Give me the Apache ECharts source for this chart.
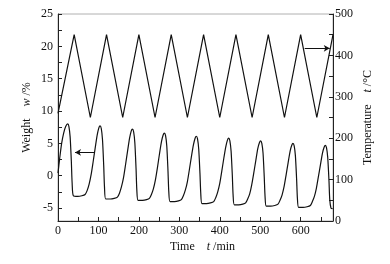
<!DOCTYPE html>
<html><head><meta charset="utf-8">
<script src="https://cdn.jsdelivr.net/npm/echarts@6/dist/echarts.min.js"></script>
<style>html,body{margin:0;padding:0;background:#fff}#c{width:390px;height:264px}</style>
</head><body><div id="c"></div>
<script>
// Weight curve (time in min, weight in %)
const weightTime = [0,4,9,14,19,24,27,30,33,35,38,49,59,
  67,72,77,82,87,92,97,101,104,107,110,113,115,118,129,139,
  147,152,157,162,167,172,177,181,184,187,190,193,195,198,209,219,
  226,231,236,241,246,251,256,260,263,266,269,272,274,277,288,298,
  305,310,315,320,325,330,335,339,342,345,348,351,353,356,367,377,
  385,390,395,400,405,410,415,419,422,425,428,431,433,436,447,457,
  464,469,474,479,484,489,494,498,501,504,507,510,512,515,526,536,
  544,549,554,559,564,569,574,578,581,584,587,590,592,595,606,616,
  624,629,634,639,644,649,654,658,661,664,667,670,672,675,679];
const weightValues = [0.4,2.6,5.0,6.6,7.6,8.0,7.6,6.0,2.2,-1.2,-3.1,-3.2,-3.1,
  -2.9,-2.3,-1.3,0.2,2.2,4.3,6.3,7.4,7.7,7.3,5.6,1.6,-1.8,-3.6,-3.6,-3.5,
  -3.3,-2.7,-1.7,-0.3,1.7,3.8,5.8,6.9,7.2,6.8,5.1,1.1,-2.3,-3.8,-3.8,-3.7,
  -3.5,-2.9,-2.0,-0.6,1.3,3.4,5.3,6.3,6.6,6.2,4.6,0.7,-2.5,-4.0,-4.0,-3.9,
  -3.7,-3.1,-2.2,-0.9,1.0,3.0,4.8,5.8,6.1,5.7,4.1,0.4,-2.7,-4.3,-4.3,-4.2,
  -4.0,-3.4,-2.5,-1.2,0.7,2.7,4.5,5.5,5.8,5.4,3.8,0.1,-3.0,-4.5,-4.5,-4.4,
  -4.2,-3.6,-2.8,-1.4,0.4,2.3,4.2,5.1,5.4,5.0,3.5,-0.2,-3.2,-4.7,-4.7,-4.6,
  -4.4,-3.8,-3.0,-1.7,0.1,2.0,3.8,4.7,5.0,4.6,3.1,-0.5,-3.5,-4.9,-4.9,-4.8,
  -4.6,-4.0,-3.2,-1.9,-0.1,1.7,3.5,4.4,4.7,4.3,2.8,-0.7,-3.7,-5.0,-5.1];
// Temperature program (time in min, temperature in °C)
const tempTime = [0,40,80,120,160,200,240,280,320,360,400,440,480,520,560,600,640,680];
const tempValues = [260,450,250,450,250,450,250,450,250,450,250,450,250,450,250,450,250,450];
// Tick / label values
const xLabels = [0,100,200,300,400,500,600];
const xTicks = [0,50,100,150,200,250,300,350,400,450,500,550,600,650];
const wLabels = [-5,0,5,10,15,20,25];
const wTicks = [-5,-2.5,0,2.5,5,7.5,10,12.5,15,17.5,20,22.5,25];
const tLabels = [0,100,200,300,400,500];
const tTicks = [0,50,100,150,200,250,300,350,400,450,500];
// Annotation arrows [from, to] in data coordinates
const weightArrow = [[91,3.6],[42,3.6]];
const tempArrow = [[610,417],[672,417]];

const font = '"Liberation Serif","Times New Roman",serif';
const axisCol = '#222';
const chart = echarts.init(document.getElementById('c'));
const lblStyle = {color:'#111', fontFamily:font, fontSize:12};
chart.setOption({
  animation:false,
  grid:{left:58,right:57,top:14,bottom:43,show:true,borderColor:'#b0b0b0',borderWidth:1},
  xAxis:{type:'value',min:0,max:680,
    name:'Time    {i|t} /min',nameLocation:'middle',nameGap:20,nameMoveOverlap:false,
    nameTextStyle:{color:'#111',fontFamily:font,fontSize:12,padding:[0,0,0,14],rich:{i:{fontStyle:'italic',fontFamily:font,fontSize:12,color:'#111'}}},
    axisLine:{onZero:false,lineStyle:{color:axisCol,width:1}},
    axisTick:{inside:true,length:4,customValues:xTicks,lineStyle:{color:axisCol}},
    axisLabel:Object.assign({margin:4,customValues:xLabels},lblStyle),
    splitLine:{show:false}},
  yAxis:[
    {type:'value',min:-7,max:25,position:'left',
     name:'Weight    {i|w} /%',nameLocation:'middle',nameGap:25,nameRotate:90,nameMoveOverlap:false,
     nameTextStyle:{color:'#111',fontFamily:font,fontSize:12,rich:{i:{fontStyle:'italic',fontFamily:font,fontSize:12,color:'#111'}}},
     axisLine:{show:true,onZero:false,lineStyle:{color:axisCol,width:1}},
     axisTick:{show:true,inside:true,length:4,customValues:wTicks,lineStyle:{color:axisCol}},
     axisLabel:Object.assign({margin:5,customValues:wLabels},lblStyle),
     splitLine:{show:false}},
    {type:'value',min:0,max:500,position:'right',
     name:'Temperature    {i|t} /°C',nameLocation:'middle',nameGap:29,nameRotate:90,nameMoveOverlap:false,
     nameTextStyle:{color:'#111',fontFamily:font,fontSize:12,rich:{i:{fontStyle:'italic',fontFamily:font,fontSize:12,color:'#111'}}},
     axisLine:{show:true,onZero:false,lineStyle:{color:axisCol,width:1}},
     axisTick:{show:true,inside:true,length:4,customValues:tTicks,lineStyle:{color:axisCol}},
     axisLabel:Object.assign({margin:2,customValues:tLabels},lblStyle),
     splitLine:{show:false}}
  ],
  series:[
    {type:'line',yAxisIndex:0,data:weightTime.map((t,i)=>[t,weightValues[i]]),
     showSymbol:false,smooth:0.25,lineStyle:{color:'#111',width:1.2},
     markLine:{silent:true,symbol:['none','arrow'],symbolSize:[5,6],label:{show:false},
       lineStyle:{color:'#111',width:1,type:'solid'},
       data:[[{coord:weightArrow[0]},{coord:weightArrow[1]}]]}},
    {type:'line',yAxisIndex:1,data:tempTime.map((t,i)=>[t,tempValues[i]]),
     showSymbol:false,lineStyle:{color:'#111',width:1.2},
     markLine:{silent:true,symbol:['none','arrow'],symbolSize:[5,6],label:{show:false},
       lineStyle:{color:'#111',width:1,type:'solid'},
       data:[[{coord:tempArrow[0]},{coord:tempArrow[1]}]]}}
  ]
});
</script></body></html>
